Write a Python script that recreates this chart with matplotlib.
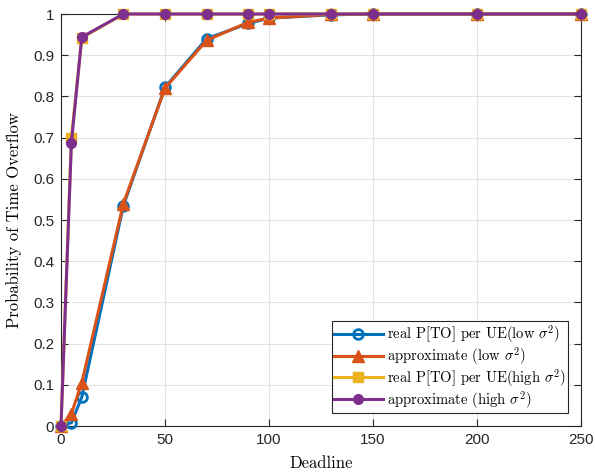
import matplotlib
matplotlib.use("Agg")
import matplotlib.pyplot as plt

deadline = [0, 5, 10, 30, 50, 70, 90, 100, 130, 150, 200, 250]
real_low = [0.0, 0.008, 0.07, 0.535, 0.822, 0.94, 0.977, 0.99, 0.998, 1.0, 1.0, 1.0]
approx_low = [0.0, 0.03, 0.105, 0.54, 0.82, 0.936, 0.98, 0.99, 0.999, 1.0, 1.0, 1.0]
real_high = [0.0, 0.70, 0.942, 1.0, 1.0, 1.0, 1.0, 1.0, 1.0, 1.0, 1.0, 1.0]
approx_high = [0.0, 0.688, 0.944, 1.0, 1.0, 1.0, 1.0, 1.0, 1.0, 1.0, 1.0, 1.0]

labels = [r"real P[TO] per UE(low $\sigma^2$)",
          r"approximate (low $\sigma^2$)",
          r"real P[TO] per UE(high $\sigma^2$)",
          r"approximate (high $\sigma^2$)"]

plt.rcParams['mathtext.fontset'] = 'cm'

fig = plt.figure(figsize=(5.95, 4.75), dpi=100)
ax = fig.add_axes([61/595, 49/475, 520/595, 412/475])

lw = 2.2
ax.plot(deadline, real_low, color='#0072BD', lw=lw, marker='o', ms=7,
        mfc='none', mew=2, label=labels[0], zorder=3, clip_on=False)
ax.plot(deadline, approx_low, color='#D95319', lw=lw, marker='^', ms=8,
        mfc='#D95319', label=labels[1], zorder=4, clip_on=False)
ax.plot(deadline, real_high, color='#EDB120', lw=lw, marker='s', ms=7,
        mfc='#EDB120', label=labels[2], zorder=5, clip_on=False)
ax.plot(deadline, approx_high, color='#7E2F8E', lw=lw, marker='o', ms=7,
        mfc='#7E2F8E', label=labels[3], zorder=6, clip_on=False)

ax.set_xlim(0, 250)
ax.set_ylim(0, 1)
ax.set_xticks([0, 50, 100, 150, 200, 250])
ax.set_yticks([i / 10 for i in range(11)])
ax.set_yticklabels(['0'] + [f'{i/10:.1f}' for i in range(1, 10)] + ['1'])
ax.grid(True, color='#e3e3e3', lw=0.8)
ax.set_axisbelow(True)
ax.tick_params(direction='in', top=True, right=True, labelsize=11,
               colors='#262626', length=5, pad=5)
for lab in ax.get_xticklabels() + ax.get_yticklabels():
    lab.set_fontfamily('Liberation Sans')
for s in ax.spines.values():
    s.set_color('#262626')
    s.set_linewidth(0.8)

ax.set_xlabel('Deadline', fontsize=12, fontfamily='cmr10', labelpad=6)
ax.set_ylabel('Probability of Time Overflow', fontsize=12, fontfamily='cmr10', labelpad=8)

leg = ax.legend(loc='lower right', prop={'family': 'cmr10', 'size': 10.5},
                fancybox=False, edgecolor='#262626', framealpha=1,
                handlelength=3.3, borderpad=0.15, labelspacing=0.0,
                handletextpad=0.3, borderaxespad=0.9)
leg.get_frame().set_linewidth(0.8)

fig.savefig('out.png', dpi=100)
